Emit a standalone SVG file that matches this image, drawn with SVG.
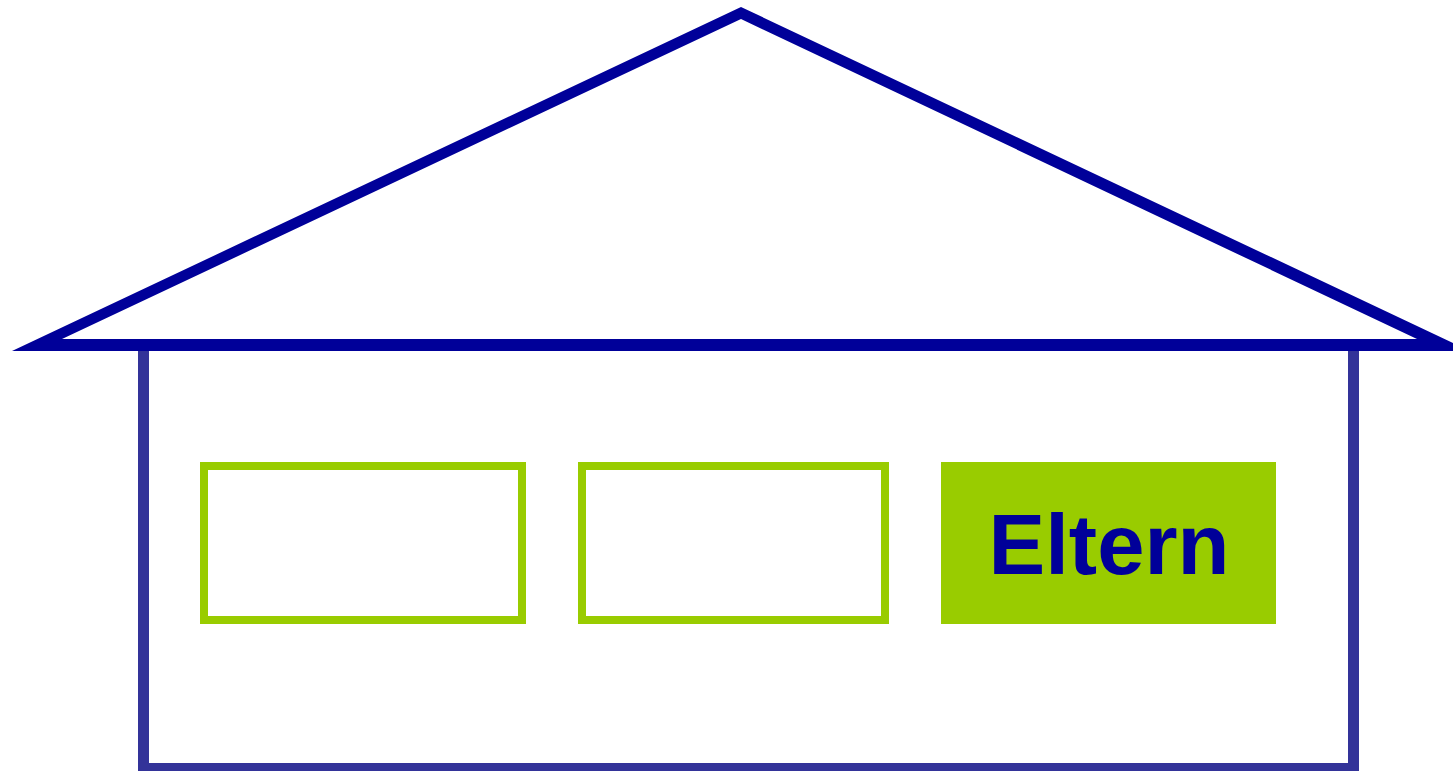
<svg xmlns="http://www.w3.org/2000/svg" width="1453" height="771" viewBox="0 0 1453 771">
<style>
.box{fill:#ffffff;stroke:#99cc00;stroke-width:8}
.lbl{font-family:"Liberation Sans",Arial,sans-serif;font-weight:bold;font-size:85px;fill:#000099}
</style>
<rect width="1453" height="771" fill="#ffffff"/>
<g id="house">
<rect x="143.5" y="345" width="1210" height="423.5" fill="none" stroke="#333399" stroke-width="11"/>
<path d="M12,351 L741,7 L1470,351 Z M62,339 L1417,339 L741,19 Z" fill="#000099" fill-rule="evenodd"/>
</g>
<g id="box1"><rect class="box" x="204" y="466" width="318" height="154"/></g>
<g id="box2"><rect class="box" x="582" y="466" width="303" height="154"/></g>
<g id="eltern">
<rect x="941" y="462" width="335" height="162" fill="#99cc00"/>
<text class="lbl" x="1109" y="574" text-anchor="middle">Eltern</text>
</g>
<g id="connectors"></g>
</svg>
